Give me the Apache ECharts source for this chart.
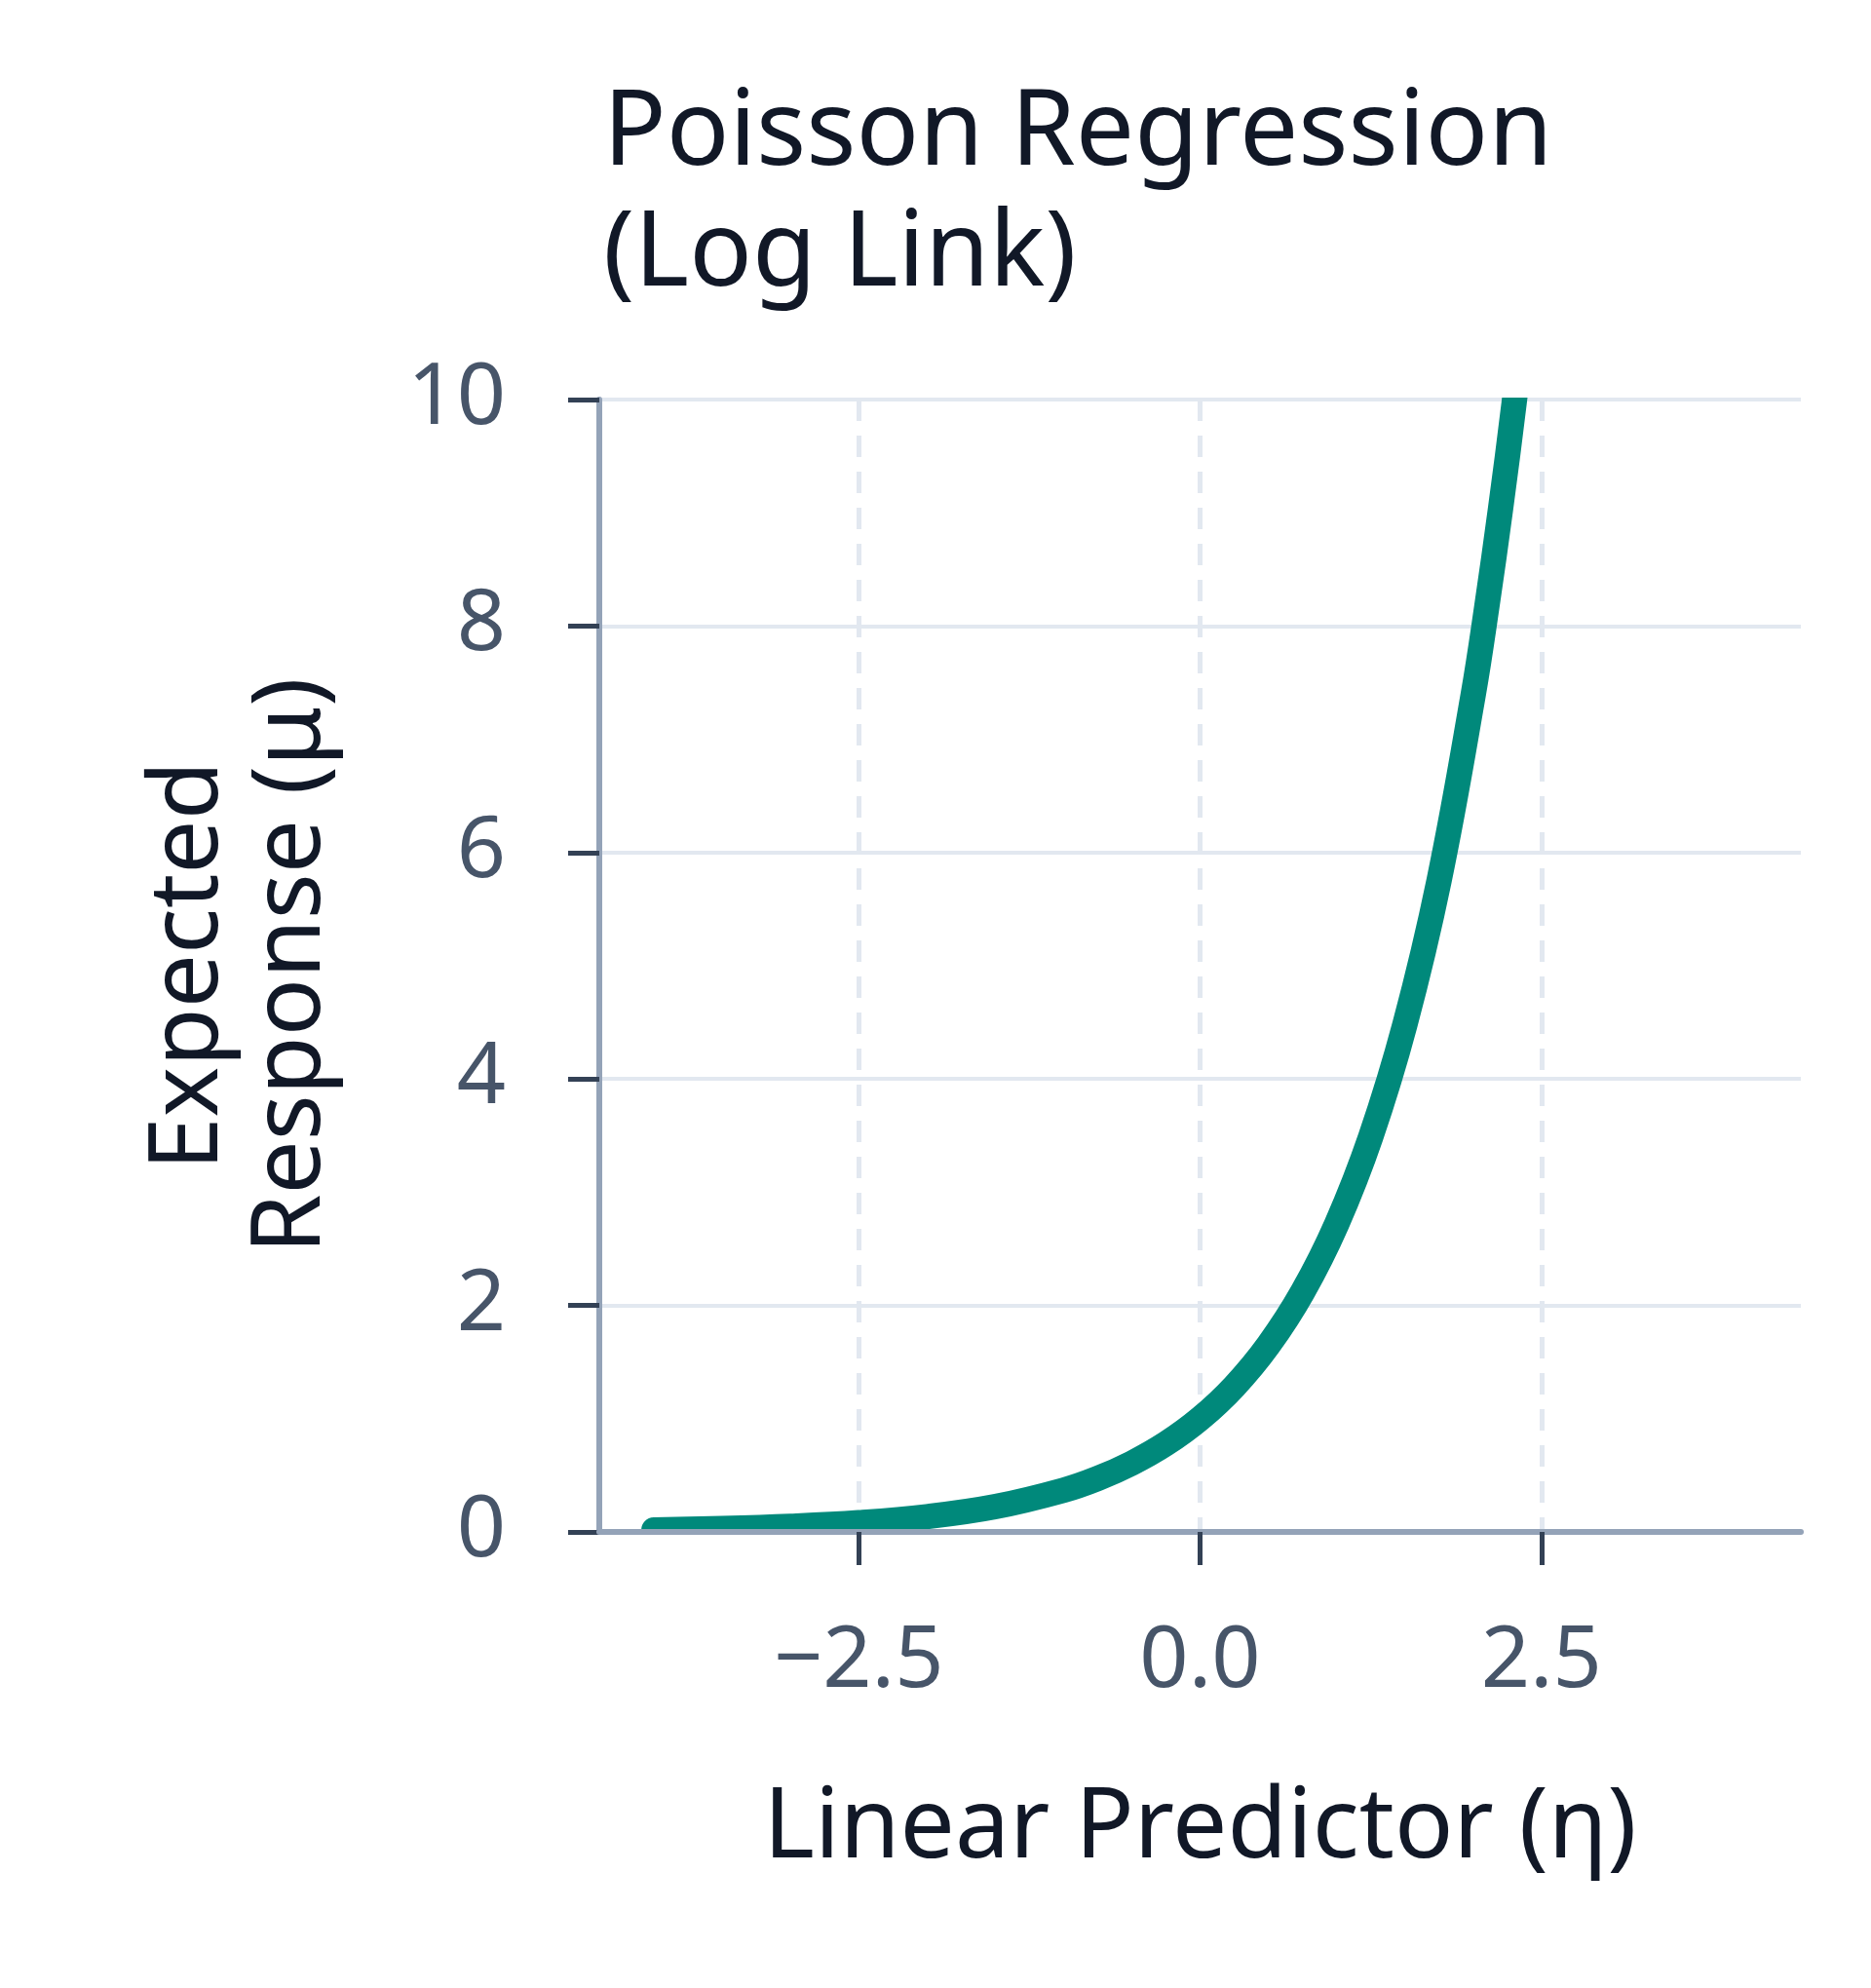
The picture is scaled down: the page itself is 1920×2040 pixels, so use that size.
<!DOCTYPE html>
<html>
<head>
<meta charset="utf-8">
<script src="https://cdn.jsdelivr.net/npm/echarts@6/dist/echarts.min.js"></script>
<style>
  html, body { margin: 0; padding: 0; background: #fff; }
  #chart { width: 1920px; height: 2040px; }
</style>
</head>
<body>
<div id="chart"></div>
<script>
// values
const eta = [-4, -3.5, -3, -2.5, -2, -1.5, -1, -0.75, -0.5, -0.25, 0, 0.25, 0.5, 0.75, 1, 1.25, 1.5, 1.75, 2, 2.1, 2.2, 2.3, 2.4];
const mu  = [0.018, 0.03, 0.05, 0.082, 0.135, 0.223, 0.368, 0.472, 0.607, 0.779, 1.0, 1.284, 1.649, 2.117, 2.718, 3.49, 4.48, 5.75, 7.39, 8.17, 9.03, 9.97, 11.02];
const xTicks = [-2.5, 0, 2.5];
const xRange = [-4.4, 4.4];
const yRange = [0, 10];

const FONT = '"Noto Sans", "Open Sans", sans-serif';
const TEAL = '#00897b';

const chart = echarts.init(document.getElementById('chart'), null, { renderer: 'canvas' });

chart.setOption({
  animation: false,
  backgroundColor: '#ffffff',
  title: {
    text: 'Poisson Regression\n(Log Link)',
    left: 614,
    top: 72,
    textStyle: {
      fontFamily: FONT,
      fontSize: 107,
      fontWeight: 'normal',
      color: '#111827',
      lineHeight: 124
    }
  },
  grid: { left: 615, right: 72, top: 410, bottom: 468, containLabel: false },
  xAxis: [{
    // visible axis: line, ticks, labels, name (drawn above the curve)
    type: 'value',
    min: xRange[0],
    max: xRange[1],
    z: 5,
    name: 'Linear Predictor (η)',
    nameLocation: 'middle',
    nameGap: 256,
    nameTextStyle: { fontFamily: FONT, fontSize: 100, color: '#111827' },
    axisLine: { show: true, onZero: false, lineStyle: { color: '#94a3b8', width: 6 } },
    axisTick: { show: true, customValues: xTicks, length: 34, lineStyle: { color: '#334155', width: 5 } },
    axisLabel: {
      customValues: xTicks,
      margin: 90,
      fontFamily: FONT,
      fontSize: 88,
      color: '#475569',
      formatter: v => v.toFixed(1).replace('-', '\u2212')
    },
    splitLine: { show: false }
  }, {
    // same scale, only the dashed vertical grid (drawn under the curve)
    type: 'value',
    min: xRange[0],
    max: xRange[1],
    z: 0,
    position: 'bottom',
    axisLine: { show: false, onZero: false },
    axisTick: { show: false, customValues: xTicks },
    axisLabel: { show: false, customValues: xTicks },
    splitLine: { show: true, lineStyle: { color: '#e2e8f0', width: 5, type: [22, 15] } }
  }],
  yAxis: {
    type: 'value',
    min: yRange[0],
    max: yRange[1],
    interval: 2,
    name: 'Expected\nResponse (μ)',
    nameLocation: 'middle',
    nameGap: 262,
    nameRotate: 90,
    nameTextStyle: { fontFamily: FONT, fontSize: 98, color: '#111827', lineHeight: 105 },
    axisLine: { show: true, onZero: false, lineStyle: { color: '#94a3b8', width: 6 } },
    axisTick: { show: true, length: 32, lineStyle: { color: '#334155', width: 5 } },
    axisLabel: { margin: 96, fontFamily: FONT, fontSize: 88, color: '#475569' },
    splitLine: { show: true, lineStyle: { color: '#e2e8f0', width: 4 } }
  },
  series: [{
    type: 'line',
    xAxisIndex: 0,
    data: eta.map((x, i) => [x, mu[i]]),
    showSymbol: false,
    smooth: 0.4,
    clip: true,
    lineStyle: { color: TEAL, width: 26, cap: 'round', join: 'round' },
    z: 2
  }]
});

// ECharts widens the clip box by half the line width; trim the curve
// exactly at the plot edges like the reference does
const p0 = chart.convertToPixel({ gridIndex: 0 }, [xRange[0], yRange[0]]);
const p1 = chart.convertToPixel({ gridIndex: 0 }, [xRange[1], yRange[1]]);
chart.setOption({
  graphic: [
    { type: 'rect', z: 3, silent: true,
      shape: { x: p0[0] + 3, y: p1[1] - 40, width: p1[0] - p0[0], height: 38 },
      style: { fill: '#ffffff' } },
    { type: 'rect', z: 3, silent: true,
      shape: { x: p0[0] + 3, y: p0[1] + 3, width: p1[0] - p0[0], height: 20 },
      style: { fill: '#ffffff' } }
  ]
});
</script>
</body>
</html>
